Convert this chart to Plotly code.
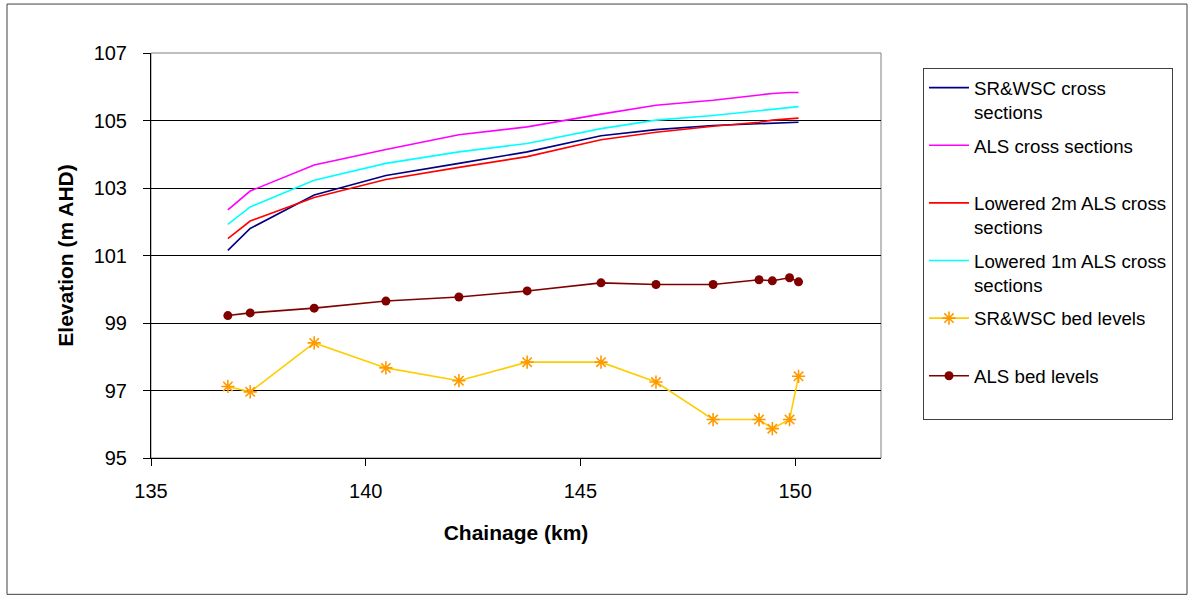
import plotly.graph_objects as go

chainage = [136.79, 137.31, 138.80, 140.47, 142.17, 143.76, 145.48, 146.76, 148.09, 149.16, 149.47, 149.87, 150.08]

srwsc_xs = [101.15, 101.80, 102.79, 103.37, 103.73, 104.07, 104.55, 104.73, 104.85, 104.91, 104.93, 104.95, 104.95]
als_xs = [102.35, 102.91, 103.68, 104.14, 104.58, 104.81, 105.19, 105.45, 105.60, 105.74, 105.80, 105.83, 105.83]
lowered2_xs = [101.50, 102.02, 102.72, 103.25, 103.61, 103.93, 104.43, 104.65, 104.83, 104.95, 105.01, 105.04, 105.07]
lowered1_xs = [101.92, 102.44, 103.23, 103.73, 104.07, 104.32, 104.76, 105.01, 105.15, 105.28, 105.32, 105.37, 105.41]
srwsc_bed = [97.12, 96.96, 98.41, 97.67, 97.29, 97.84, 97.84, 97.25, 96.14, 96.14, 95.87, 96.14, 97.42]
als_bed = [99.22, 99.30, 99.44, 99.65, 99.77, 99.95, 100.19, 100.14, 100.14, 100.28, 100.25, 100.34, 100.22]

names = ["SR&WSC cross<br>sections", "ALS cross sections<br>&nbsp;", "Lowered 2m ALS cross<br>sections",
         "Lowered 1m ALS cross<br>sections", "SR&WSC bed levels<br>&nbsp;", "ALS bed levels<br>&nbsp;"]

FONT = "Arial, Liberation Sans, sans-serif"

fig = go.Figure()
line_series = [(srwsc_xs, "#000080"), (als_xs, "#FF00FF"), (lowered2_xs, "#FF0000"), (lowered1_xs, "#00FFFF")]
for i, (vals, col) in enumerate(line_series):
    fig.add_trace(go.Scatter(x=chainage, y=vals, mode="lines", name=names[i], legendgroup=f"g{i}",
                             line=dict(color=col, width=1.6)))
fig.add_trace(go.Scatter(x=chainage, y=srwsc_bed, mode="lines+markers", name=names[4], legendgroup="g4",
                         line=dict(color="#FFCC00", width=1.6),
                         marker=dict(symbol="asterisk-open", size=11, color="#FF9900",
                                     line=dict(color="#FF9900", width=1.6))))
fig.add_trace(go.Scatter(x=chainage, y=als_bed, mode="lines+markers", name=names[5], legendgroup="g5",
                         line=dict(color="#800000", width=1.6),
                         marker=dict(symbol="circle", size=9, color="#800000")))

L, R, T, B = 151, 313, 53, 140.5
PW, PH = 1194 - L - R, 599 - T - B

def px(p):
    return (p - L) / PW

def py(q):
    return (599 - B - q) / PH

fig.add_shape(type="rect", xref="paper", yref="paper", x0=0, x1=1, y0=0, y1=1,
              line=dict(color="#808080", width=1), layer="below")
fig.add_shape(type="rect", xref="paper", yref="paper", x0=px(7), x1=px(1187), y0=py(595), y1=py(4),
              line=dict(color="#404040", width=1), layer="below")

fig.update_layout(
    width=1194, height=599,
    margin=dict(l=L, r=R, t=T, b=B),
    paper_bgcolor="white", plot_bgcolor="white",
    font=dict(family=FONT, color="black", size=20),
    showlegend=True,
    legend=dict(x=px(923), y=py(68), xanchor="left", yanchor="top",
                bordercolor="#404040", borderwidth=1, bgcolor="white",
                font=dict(family=FONT, size=18.7, color="black"),
                tracegroupgap=6, valign="top", traceorder="grouped", itemwidth=40),
    xaxis=dict(range=[135, 152], tickvals=[135, 140, 145, 150], showgrid=False, zeroline=False,
               showline=True, linecolor="black", linewidth=1, ticks="outside", ticklen=7,
               tickcolor="black", tickfont=dict(size=20, family=FONT), ticklabelstandoff=8,
               title=dict(text="<b>Chainage (km)</b>", font=dict(size=21, family=FONT), standoff=24)),
    yaxis=dict(range=[95, 107], tick0=95, dtick=2, showgrid=True, gridcolor="black", gridwidth=1,
               zeroline=False, showline=True, linecolor="black", linewidth=1, ticks="outside", ticklen=7,
               tickcolor="black", tickfont=dict(size=20, family=FONT), ticklabelstandoff=12,
               title=dict(text="<b>Elevation (m AHD)</b>", font=dict(size=21, family=FONT), standoff=14)),
)

fig.write_html("out.html", config={"displayModeBar": False},
               post_script="document.body.style.margin='0px';document.body.style.overflow='hidden';")
